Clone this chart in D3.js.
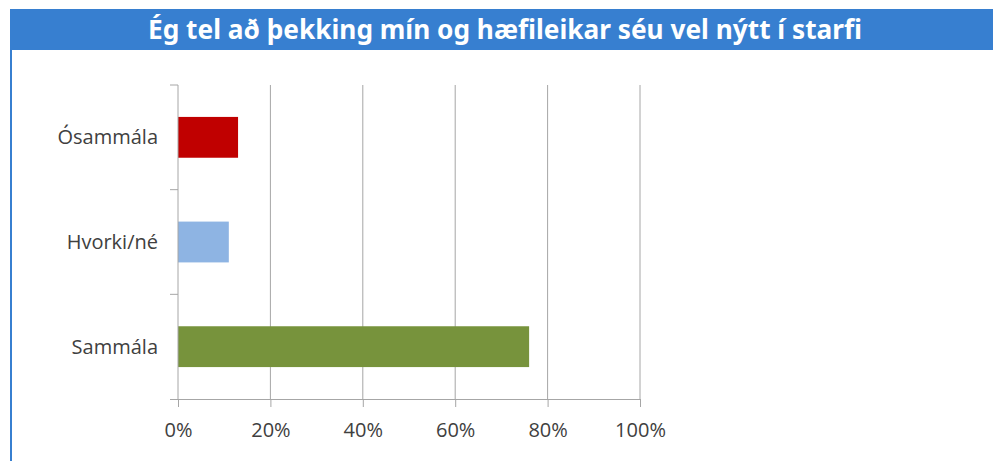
<!DOCTYPE html>
<html>
<head>
<meta charset="utf-8">
<script src="https://cdn.jsdelivr.net/npm/d3@7"></script>
<style>
  body { margin: 0; background: #fff; }
  svg { display: block; }
</style>
</head>
<body>
<div id="chart"></div>
<script>
// data
var titleText = "Ég tel að þekking mín og hæfileikar séu vel nýtt í starfi";
var categories = ["Ósammála", "Hvorki/né", "Sammála"];
var values = [0.13, 0.11, 0.76];
var barColors = ["#c00000", "#8eb4e3", "#77933c"];
var xTicks = [0, 0.2, 0.4, 0.6, 0.8, 1.0];

var W = 994, H = 461;
var margin = { left: 178, top: 85, right: 354, bottom: 62 };
var width = W - margin.left - margin.right;   // 462
var height = H - margin.top - margin.bottom;  // 314

var svg = d3.select("#chart").append("svg")
    .attr("width", W)
    .attr("height", H);

// title bar + left frame line
svg.append("rect")
    .attr("x", 10).attr("y", 9)
    .attr("width", 983).attr("height", 41)
    .attr("fill", "#377fd0");
svg.append("rect")
    .attr("x", 10).attr("y", 50)
    .attr("width", 2).attr("height", H - 50)
    .attr("fill", "#377fd0");
svg.append("text")
    .attr("x", 505)
    .attr("y", 39)
    .attr("text-anchor", "middle")
    .attr("font-family", "'Noto Sans', sans-serif")
    .attr("font-weight", "bold")
    .attr("font-size", "26px")
    .attr("fill", "#fff")
    .attr("textLength", 714)
    .attr("lengthAdjust", "spacingAndGlyphs")
    .text(titleText);

var g = svg.append("g")
    .attr("transform", "translate(" + margin.left + "," + margin.top + ")");

var x = d3.scaleLinear()
    .domain([0, 1])
    .range([0, width]);

var y = d3.scaleBand()
    .domain(categories)
    .range([0, height])
    .paddingInner(0.61)
    .paddingOuter(0.305);

var yTickScale = d3.scaleLinear()
    .domain([0, categories.length])
    .range([0, height]);

// vertical gridlines
g.selectAll(".grid")
    .data(xTicks.slice(1))
    .enter()
    .append("line")
    .attr("x1", d => x(d)).attr("x2", d => x(d))
    .attr("y1", 0).attr("y2", height)
    .attr("stroke", "#a6a6a6")
    .attr("stroke-width", 1);

// bars
g.selectAll(".bar")
    .data(categories)
    .enter()
    .append("rect")
    .attr("x", 0)
    .attr("y", d => y(d))
    .attr("width", (d, i) => x(values[i]))
    .attr("height", y.bandwidth())
    .attr("fill", (d, i) => barColors[i]);

// x axis
var xAxis = d3.axisBottom(x)
    .tickValues(xTicks)
    .tickSize(8)
    .tickPadding(16)
    .tickFormat(d3.format(".0%"));
var xg = g.append("g")
    .attr("transform", "translate(0," + height + ")")
    .call(xAxis);
xg.select(".domain").attr("d", "M-8,0.5H" + width);

// y axis line and category separators
var yg = g.append("g");
yg.append("line")
    .attr("x1", 0).attr("x2", 0)
    .attr("y1", 0).attr("y2", height)
    .attr("stroke", "#a6a6a6");
yg.selectAll(".ytick")
    .data(d3.range(categories.length))
    .enter()
    .append("line")
    .attr("x1", -8).attr("x2", 0)
    .attr("y1", d => yTickScale(d)).attr("y2", d => yTickScale(d))
    .attr("stroke", "#a6a6a6");
yg.selectAll(".ylab")
    .data(categories)
    .enter()
    .append("text")
    .attr("x", -20)
    .attr("y", d => y(d) + y.bandwidth() / 2)
    .attr("dy", "0.35em")
    .attr("text-anchor", "end")
    .attr("font-family", "'Open Sans', sans-serif")
    .attr("font-size", "20px")
    .attr("fill", "#404040")
    .text(d => d);

xg.selectAll(".tick line").attr("stroke", "#a6a6a6");
xg.select(".domain").attr("stroke", "#a6a6a6");
xg.selectAll(".tick text")
    .attr("font-family", "'Open Sans', sans-serif")
    .attr("font-size", "20px")
    .attr("fill", "#404040");
</script>
</body>
</html>
